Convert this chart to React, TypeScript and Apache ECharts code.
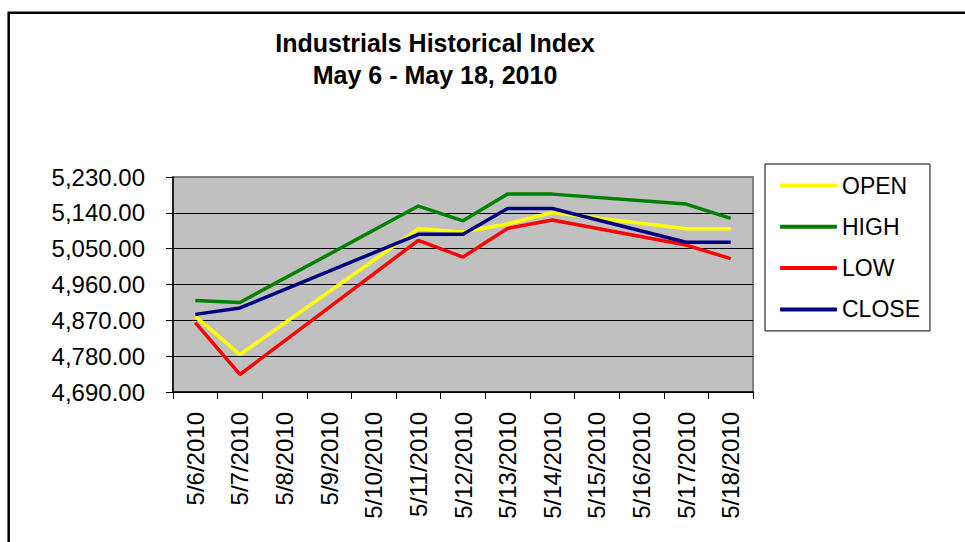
import React, { useEffect, useRef } from "react";
import * as echarts from "echarts";

const DATES = [
  "5/6/2010", "5/7/2010", "5/8/2010", "5/9/2010", "5/10/2010", "5/11/2010", "5/12/2010",
  "5/13/2010", "5/14/2010", "5/15/2010", "5/16/2010", "5/17/2010", "5/18/2010",
];
const OPEN = [4880, 4784, null, null, null, 5100, 5092, 5112, 5141, null, null, 5100, 5100];
const HIGH = [4920, 4915, null, null, null, 5157, 5120, 5187, 5187, null, null, 5162, 5126];
const LOW = [4864, 4734, null, null, null, 5071, 5029, 5101, 5122, null, null, 5059, 5025];
const CLOSE = [4885, 4901, null, null, null, 5086, 5086, 5151, 5151, null, null, 5066, 5066];

const Y_BASE = 4690;
const Y_TOP = 5230;
const Y_STEP = 90;

const FONT = "'Liberation Sans', Arial, sans-serif";

const SERIES = [
  { name: "OPEN", data: OPEN, color: "#FFFF00" },
  { name: "HIGH", data: HIGH, color: "#008000" },
  { name: "LOW", data: LOW, color: "#FF0000" },
  { name: "CLOSE", data: CLOSE, color: "#000080" },
];

export default function App() {
  const ref = useRef<HTMLDivElement>(null);
  useEffect(() => {
    if (!ref.current) return;
    const chart = echarts.init(ref.current, null, { renderer: "svg" });
    const fmt = (v: number) =>
      (v + Y_BASE).toLocaleString("en-US", { minimumFractionDigits: 2, maximumFractionDigits: 2 });
    chart.setOption({
      animation: false,
      backgroundColor: "#ffffff",
      title: {
        text: "Industrials Historical Index\nMay 6 - May 18, 2010",
        left: 435,
        top: 27,
        padding: 0,
        textAlign: "center",
        textStyle: {
          fontFamily: FONT,
          fontSize: 25,
          fontWeight: "bold",
          color: "#000",
          lineHeight: 32,
        },
      },
      graphic: [
        {
          type: "rect",
          shape: { x: 8.7, y: 12.8, width: 2000, height: 2000 },
          style: { fill: "none", stroke: "#000", lineWidth: 2.5 },
          silent: true,
        },
      ],
      legend: {
        orient: "vertical",
        left: 765,
        top: 164,
        padding: [10, 10, 10, 15],
        itemGap: 18.3,
        itemWidth: 57,
        itemHeight: 4,
        icon: "roundRect",
        borderColor: "#000",
        borderWidth: 1,
        backgroundColor: "#fff",
        textStyle: { fontFamily: FONT, fontSize: 23, color: "#000", lineHeight: 23, padding: [0, 0, 0, 0] },
        data: SERIES.map((s) => s.name),
      },
      grid: {
        left: 173,
        top: 177,
        width: 580,
        height: 215,
        show: true,
        backgroundColor: "#C0C0C0",
        borderColor: "#808080",
        borderWidth: 2,
        containLabel: false,
      },
      xAxis: {
        type: "category",
        data: DATES,
        boundaryGap: true,
        axisLine: { show: true, lineStyle: { color: "#000", width: 1.5 } },
        axisTick: { show: true, inside: false, length: 7, interval: 0, lineStyle: { color: "#000", width: 1 } },
        axisLabel: {
          interval: 0,
          rotate: 90,
          margin: 20,
          fontFamily: FONT,
          fontSize: 24,
          color: "#000",
        },
        splitLine: { show: false },
      },
      yAxis: {
        type: "value",
        min: 0,
        max: Y_TOP - Y_BASE,
        interval: Y_STEP,
        axisLine: { show: true, lineStyle: { color: "#000", width: 1.5 } },
        axisTick: { show: true, inside: false, length: 7, lineStyle: { color: "#000", width: 1 } },
        axisLabel: {
          formatter: fmt,
          margin: 28,
          fontFamily: FONT,
          fontSize: 24,
          color: "#000",
        },
        splitLine: {
          show: true,
          lineStyle: {
            color: ["#000", "#000", "#000", "#000", "#000", "#000", "#808080"],
            width: 1,
          },
        },
      },
      series: SERIES.map((s) => ({
        name: s.name,
        type: "line",
        data: s.data.map((v) => (v == null ? null : v - Y_BASE)),
        connectNulls: true,
        showSymbol: false,
        symbol: "none",
        color: s.color,
        lineStyle: { color: s.color, width: 3.5 },
        itemStyle: { color: s.color },
      })),
    });
    return () => chart.dispose();
  }, []);
  return (
    <div
      ref={ref}
      style={{ position: "absolute", left: 0, top: 0, width: 965, height: 542 }}
    />
  );
}
